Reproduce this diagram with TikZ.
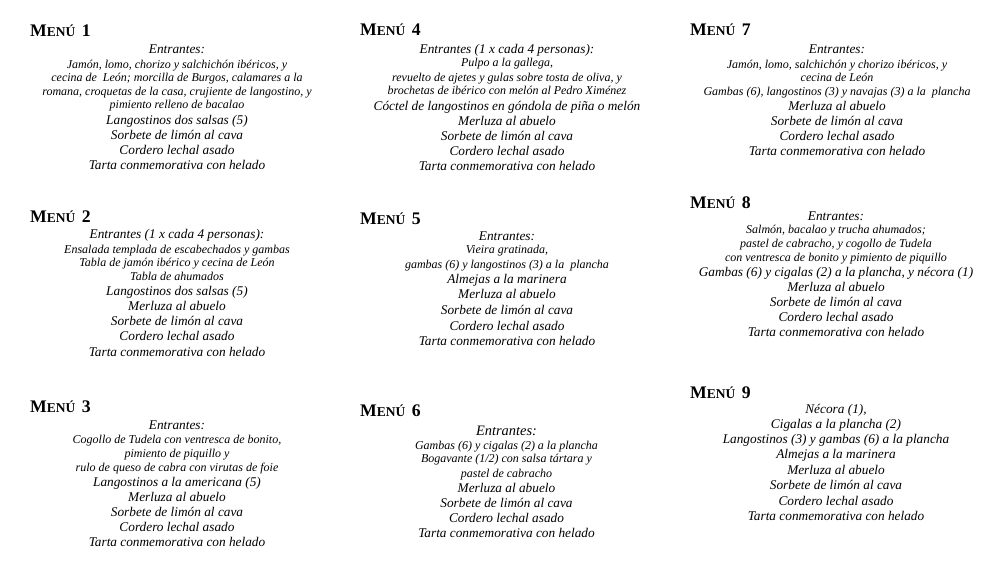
\documentclass[tikz,border=0pt]{standalone}
\usepackage{fontspec}
\setmainfont{Liberation Serif}
\providecommand{\gr}{\fontsize{13.3}{15}\selectfont}
\providecommand{\arr}{\rule{0pt}{10pt}}
\providecommand{\menu}[1]{M{\fontsize{13.5}{14}\selectfont ENÚ}\hspace{6.5pt}#1}
\tikzstyle{titulo} = [anchor=base west, inner sep=0pt, font=\bfseries\fontsize{17.7}{20}\selectfont]
\tikzstyle{carta} = [anchor=north, inner sep=0pt, align=center, font=\itshape\fontsize{12}{13.4}\selectfont]
\begin{document}
\begin{tikzpicture}[x=1pt, y=-1pt]
    \useasboundingbox (0,0) rectangle (992,569);
    % columna izquierda
    \node [titulo] (titulo1) at (30,36.5) {\menu{1}};
    \node [carta] (carta1) at (177,43) {\arr{\gr Entrantes:}\\[1.9pt]
        Jamón, lomo, chorizo y salchichón ibéricos, y\\
        cecina de\ \ León; morcilla de Burgos, calamares a la\\
        romana, croquetas de la casa, crujiente de langostino, y\\
        pimiento relleno de bacalao\\[2.3pt]
        {\gr Langostinos dos salsas (5)}\\[1.9pt]
        {\gr Sorbete de limón al cava}\\[1.6pt]
        {\gr Cordero lechal asado}\\[1.6pt]
        {\gr Tarta conmemorativa con helado}};
    \node [titulo] (titulo2) at (30,222.3) {\menu{2}};
    \node [carta] (carta2) at (177,228.3) {\arr{\gr Entrantes (1 x cada 4 personas):}\\[1.6pt]
        Ensalada templada de escabechados y gambas\\
        Tabla de jamón ibérico y cecina de León\\
        Tabla de ahumados\\[1.6pt]
        {\gr Langostinos dos salsas (5)}\\[1.6pt]
        {\gr Merluza al abuelo}\\[1.6pt]
        {\gr Sorbete de limón al cava}\\[1.6pt]
        {\gr Cordero lechal asado}\\[3pt]
        {\gr Tarta conmemorativa con helado}};
    \node [titulo] (titulo3) at (30,412.3) {\menu{3}};
    \node [carta] (carta3) at (177,419) {\arr{\gr Entrantes:}\\[0.9pt]
        Cogollo de Tudela con ventresca de bonito,\\[1pt]
        pimiento de piquillo y\\[0.6pt]
        rulo de queso de cabra con virutas de foie\\[1.6pt]
        {\gr Langostinos a la americana (5)}\\[1.6pt]
        {\gr Merluza al abuelo}\\[1.6pt]
        {\gr Sorbete de limón al cava}\\[1.6pt]
        {\gr Cordero lechal asado}\\[1.6pt]
        {\gr Tarta conmemorativa con helado}};
    % columna central
    \node [titulo] (titulo4) at (360,36) {\menu{4}};
    \node [carta] (carta4) at (507,43.3) {\arr{\gr Entrantes (1 x cada 4 personas):}\\
        Pulpo a la gallega,\\[0.9pt]
        revuelto de ajetes y gulas sobre tosta de oliva, y\\
        brochetas de ibérico con melón al Pedro Ximénez\\[2.3pt]
        {\gr Cóctel de langostinos en góndola de piña o melón}\\[1.6pt]
        {\gr Merluza al abuelo}\\[1.6pt]
        {\gr Sorbete de limón al cava}\\[1.6pt]
        {\gr Cordero lechal asado}\\[1.6pt]
        {\gr Tarta conmemorativa con helado}};
    \node [titulo] (titulo5) at (360,225) {\menu{5}};
    \node [carta] (carta5) at (507,230) {\arr{\gr Entrantes:}\\
        Vieira gratinada,\\[1pt]
        gambas (6) y langostinos (3) a la\ \ plancha\\[2.2pt]
        {\gr Almejas a la marinera}\\[1.6pt]
        {\gr Merluza al abuelo}\\[2.6pt]
        {\gr Sorbete de limón al cava}\\[2.3pt]
        {\gr Cordero lechal asado}\\[1.6pt]
        {\gr Tarta conmemorativa con helado}};
    \node [titulo] (titulo6) at (360,416.7) {\menu{6}};
    \node [carta] (carta6) at (506.5,425) {\arr{\fontsize{14.4}{15}\selectfont Entrantes:}\\[0.6pt]
        Gambas (6) y cigalas (2) a la plancha\\
        Bogavante (1/2) con salsa tártara y\\[1pt]
        pastel de cabracho\\[1.6pt]
        {\gr Merluza al abuelo}\\[1.6pt]
        {\gr Sorbete de limón al cava}\\[1.6pt]
        {\gr Cordero lechal asado}\\[2.2pt]
        {\gr Tarta conmemorativa con helado}};
    % columna derecha
    \node [titulo] (titulo7) at (690,36) {\menu{7}};
    \node [carta] (carta7) at (837,43.3) {\arr{\gr Entrantes:}\\[1.6pt]
        Jamón, lomo, salchichón y chorizo ibéricos, y\\
        cecina de León\\
        Gambas (6), langostinos (3) y navajas (3) a la\ \ plancha\\[1.6pt]
        {\gr Merluza al abuelo}\\[1.6pt]
        {\gr Sorbete de limón al cava}\\[1.6pt]
        {\gr Cordero lechal asado}\\[1.6pt]
        {\gr Tarta conmemorativa con helado}};
    \node [titulo] (titulo8) at (690,208.3) {\menu{8}};
    \node [carta] (carta8) at (836,210) {\arr{\gr Entrantes:}\\
        Salmón, bacalao y trucha ahumados;\\[0.6pt]
        pastel de cabracho, y cogollo de Tudela\\
        con ventresca de bonito y pimiento de piquillo\\[2.3pt]
        {\gr Gambas (6) y cigalas (2) a la plancha, y nécora (1)}\\[1.6pt]
        {\gr Merluza al abuelo}\\[1.6pt]
        {\gr Sorbete de limón al cava}\\[1.6pt]
        {\gr Cordero lechal asado}\\[1.6pt]
        {\gr Tarta conmemorativa con helado}};
    \node [titulo] (titulo9) at (690,398.3) {\menu{9}};
    \node [carta] (carta9) at (836,403.3) {\arr{\gr Nécora (1),}\\[1.6pt]
        {\gr Cigalas a la plancha (2)}\\[1.6pt]
        {\gr Langostinos (3) y gambas (6) a la plancha}\\[1.6pt]
        {\gr Almejas a la marinera}\\[2.6pt]
        {\gr Merluza al abuelo}\\[1.6pt]
        {\gr Sorbete de limón al cava}\\[2.3pt]
        {\gr Cordero lechal asado}\\[1.6pt]
        {\gr Tarta conmemorativa con helado}};
\end{tikzpicture}
\end{document}
